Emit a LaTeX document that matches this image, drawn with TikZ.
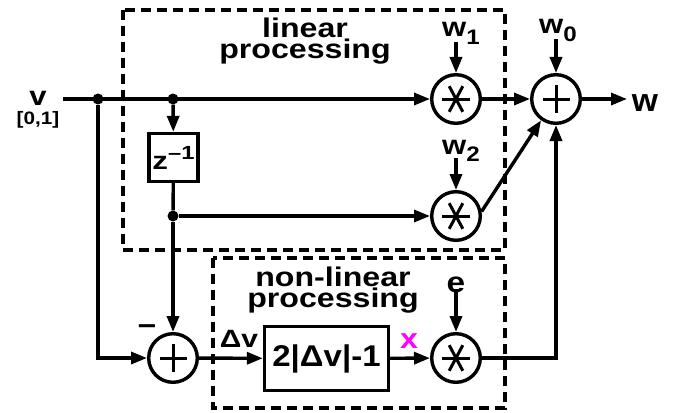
\documentclass[tikz,border=0pt]{standalone}
\usepackage{fontspec}
\setmainfont{Liberation Sans}
\usetikzlibrary{arrows.meta}
\definecolor{mag}{RGB}{255,0,255}
\newcommand{\myhs}[2][1.15]{\scalebox{#1}[1]{#2}}
\newcommand{\fs}[1]{\fontsize{#1}{#1}\selectfont}
\begin{document}
\begin{tikzpicture}[x=1pt,y=-1pt,
  lw/.style={line width=3.4pt},
  arr/.style={lw,-{Triangle[length=16pt,width=12pt]}},
  ln/.style={lw},
  lbl/.style={font=\bfseries, inner sep=0pt, anchor=base},
  ttl/.style={font=\bfseries\fontsize{27}{21}\selectfont, inner sep=0pt, anchor=north, align=center},
  dashbox/.style={line width=3.4pt, dash pattern=on 10pt off 6pt},
  dotn/.style={circle, fill=black, minimum size=11pt, inner sep=0pt},
  mult/.style={circle, draw, lw, minimum size=48.6pt, inner sep=0pt,
    path picture={
      \draw[line width=3pt] ([shift={(0:14)}]path picture bounding box.center) -- ([shift={(180:14)}]path picture bounding box.center);
      \draw[line width=3pt] ([shift={(62:14.5)}]path picture bounding box.center) -- ([shift={(242:14.5)}]path picture bounding box.center);
      \draw[line width=3pt] ([shift={(118:14.5)}]path picture bounding box.center) -- ([shift={(298:14.5)}]path picture bounding box.center);
    }},
  summ/.style={circle, draw, lw, minimum size=48.6pt, inner sep=0pt,
    path picture={
      \draw[line width=3pt] ([shift={(0:13.5)}]path picture bounding box.center) -- ([shift={(180:13.5)}]path picture bounding box.center);
      \draw[line width=3pt] ([shift={(90:14)}]path picture bounding box.center) -- ([shift={(270:14)}]path picture bounding box.center);
    }},
  blk/.style={draw, lw, inner sep=0pt, font=\bfseries}
]
\useasboundingbox (0,0) rectangle (674,412);

% dashed regions
\draw[dashbox] (123,10) rectangle (505,250);
\draw[dashbox] (213,258) rectangle (505,408);

% region titles
\node[ttl] (lin) at (305,18) {\myhs[1.19]{linear}\\\myhs[1.19]{processing}};
\node[ttl] (nlt) at (333,267) {\myhs[1.19]{non-linear}\\\myhs[1.19]{processing}};

% nodes
\coordinate (vin) at (63,99);
\node[dotn] (d1) at (98,99) {};
\node[dotn] (d2) at (173,99) {};
\node[blk, minimum width=49pt, minimum height=48pt] (z) at (173.5,157.5) {\fs{25}\myhs[1.25]{z\raisebox{10pt}{\fs{19}–1}}};
\node[dotn] (d3) at (173,216) {};
\node[mult] (m1) at (456,99) {};
\node[mult] (m2) at (456,216) {};
\node[summ] (s) at (556,99) {};
\node[summ] (s2) at (173,358) {};
\node[blk, minimum width=124pt, minimum height=64pt] (nl) at (326.5,358.5) {\fs{30}\myhs[1.1]{2|Δv|-1}};
\node[mult] (m3) at (456,358) {};
\coordinate (wout) at (627,99);
\coordinate (c1) at (98,358);
\coordinate (c2) at (556,358);

% labels
\node[lbl] (vl) at (38,105) {\fs{27}\myhs{v}};
\node[lbl] (rng) at (38,124) {\fs{18}\myhs{[0,1]}};
\node[lbl, anchor=base west] (w1) at (442,37) {\fs{27}\myhs{w\raisebox{-8pt}{\fs{21}1}}};
\node[lbl, anchor=base west] (w0) at (539,34) {\fs{27}\myhs{w\raisebox{-8pt}{\fs{21}0}}};
\node[lbl, anchor=base west] (w2) at (442,154) {\fs{27}\myhs{w\raisebox{-7pt}{\fs{21}2}}};
\node[lbl] (wo) at (645,111) {\fs{32}\myhs[1.05]{w}};
\node[lbl] (el) at (456,292) {\fs{29}\myhs{e}};
\node[lbl, text=mag] (xl) at (409,348) {\fs{28}\myhs{x}};
\node[lbl] (dv) at (239,347) {\fs{25}\myhs[1.2]{Δv}};
\node[lbl] (minus) at (147,335) {\fs{28}\myhs{−}};

% connectors
\draw[arr] (vin) -- (m1);
\draw[arr] (m1) -- (s);
\draw[arr] (s) -- (wout);
\draw[arr] (d2) -- (z);
\draw[ln] (z) -- (d3);
\draw[arr] (d3) -- (m2);
\draw[arr] (d3) -- (s2);
\draw[arr] (d1) -- (c1) -- (s2);
\draw[arr] (s2) -- (nl);
\draw[arr] (nl) -- (m3);
\draw[arr] (m3) -- (c2) -- (s);
\draw[arr] (m2.10) -- (s.235);
\draw[arr] ([yshift=3pt]w1.south -| m1) -- (m1);
\draw[arr] ([yshift=3pt]w0.south -| s) -- (s);
\draw[arr] ([yshift=3pt]w2.south -| m2) -- (m2);
\draw[arr] ([yshift=3pt]el.south -| m3) -- (m3);
\end{tikzpicture}
\end{document}
